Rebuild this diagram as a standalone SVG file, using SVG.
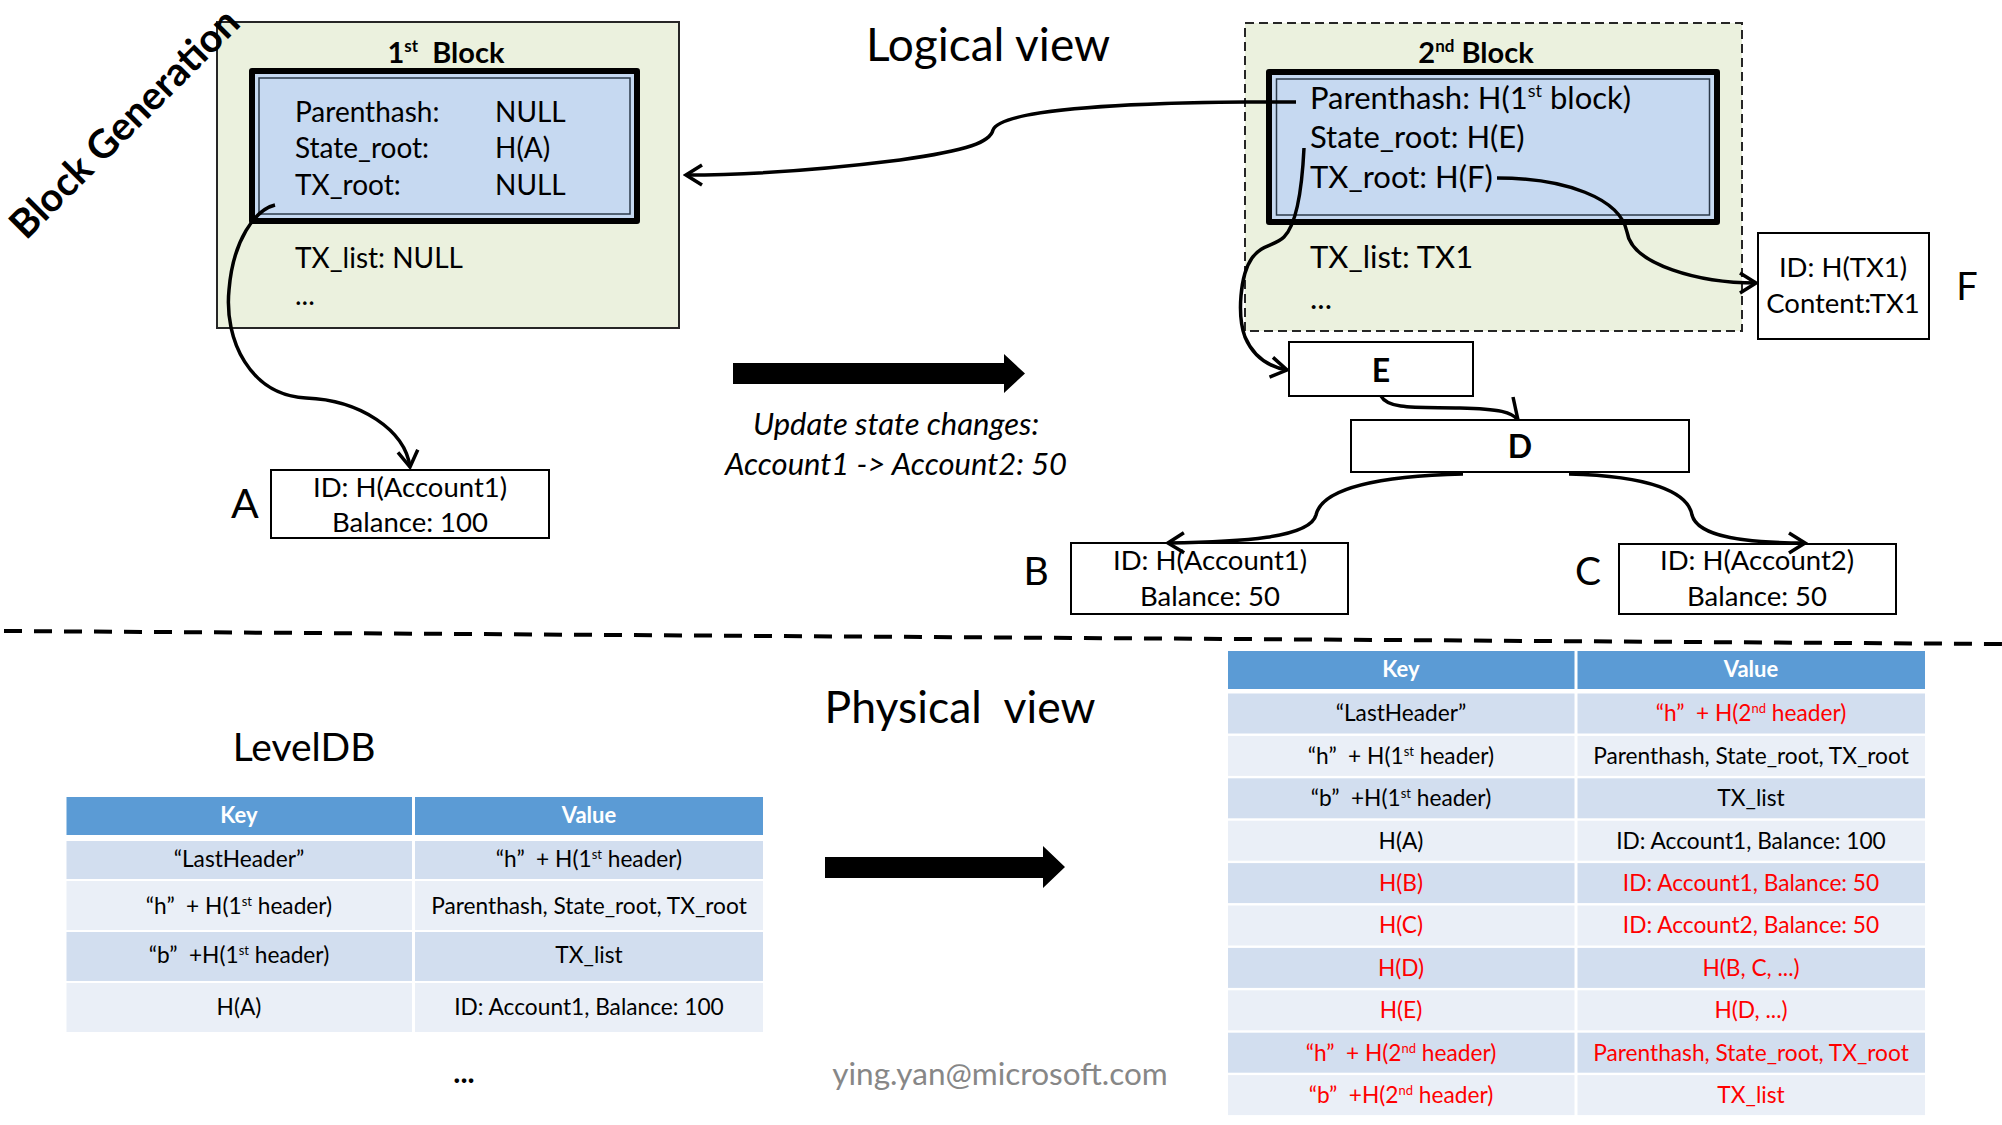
<svg xmlns="http://www.w3.org/2000/svg" width="2002" height="1125" viewBox="0 0 2002 1125">
<style>
text{font-family:Lato,"Liberation Sans",sans-serif;fill:#000}
.b{font-weight:bold}
.c{text-anchor:middle}
.i{font-style:italic}
.box{fill:#fff;stroke:#000;stroke-width:2}
.blk{fill:#EBF1DE;stroke:#262626;stroke-width:2}
.hdr{fill:#C6D9F1;stroke:#000;stroke-width:6;stroke-linejoin:round}
.hdr2{fill:none;stroke:#2b3a4a;stroke-width:1.5}
.con{fill:none;stroke:#000;stroke-width:3.5}
.th{fill:#5B9BD5}
.d1{fill:#D2DEEF}
.d2{fill:#EAEFF7}
.red{fill:#FF0000}
.tb{font-size:22.7px}
.th-t{font-size:22px;font-weight:bold;fill:#fff}
</style>
<defs>
<marker id="ah" markerUnits="userSpaceOnUse" viewBox="0 0 22 24" refX="19" refY="12" markerWidth="22" markerHeight="24" orient="auto">
<path d="M3,2 L19,12 L3,22" fill="none" stroke="#000" stroke-width="3.5"/>
</marker>
</defs>
<rect width="2002" height="1125" fill="#fff"/>

<text class="c" font-size="46" x="988" y="61">Logical view</text>
<text class="c" font-size="44.5" x="960" y="723">Physical&#160; view</text>
<text class="c" font-size="39" x="304" y="761">LevelDB</text>
<text class="c" font-size="31.5" x="1000" y="1085" style="fill:#878787">ying.yan@microsoft.com</text>
<text class="c i" font-size="31" x="896" y="435">Update state changes:</text>
<text class="c i" font-size="31" x="896" y="475">Account1 -&gt; Account2: 50</text>
<text class="b c" font-size="30" x="464" y="1083">...</text>

<path d="M733,363 L1004,363 L1004,354 L1025,373.5 L1004,393 L1004,384 L733,384 Z" fill="#000"/>
<path d="M825,857 L1043,857 L1043,846 L1065,867 L1043,888 L1043,878 L825,878 Z" fill="#000"/>
<path d="M4,631 L2002,644" fill="none" stroke="#000" stroke-width="4" stroke-dasharray="18 12"/>

<g id="block1">
<rect class="blk" x="217" y="22" width="462" height="306"/>
<text class="b c" font-size="29" x="446" y="63">1<tspan font-size="17" dy="-11">st</tspan><tspan dy="11">&#160; Block</tspan></text>
<rect class="hdr" x="252" y="71" width="385" height="150"/>
<rect class="hdr2" x="259" y="78" width="371" height="136"/>
<text font-size="28" x="295" y="122">Parenthash:</text>
<text font-size="28" x="295" y="158">State_root:</text>
<text font-size="28" x="295" y="195">TX_root:</text>
<text font-size="28" x="495" y="122">NULL</text>
<text font-size="28" x="495" y="158">H(A)</text>
<text font-size="28" x="495" y="195">NULL</text>
<text font-size="28" x="295" y="268">TX_list: NULL</text>
<text font-size="28" x="295" y="305">...</text>
</g>

<text class="b c" font-size="39.5" transform="translate(134,133) rotate(-45)">Block Generation</text>

<g id="block2">
<rect class="blk" x="1245" y="23" width="497" height="308" stroke-dasharray="9 5"/>
<text class="b c" font-size="29" x="1476" y="63">2<tspan font-size="17" dy="-11">nd</tspan><tspan dy="11"> Block</tspan></text>
<rect class="hdr" x="1269" y="72" width="448" height="150"/>
<rect class="hdr2" x="1276.5" y="79" width="433" height="136"/>
<text font-size="31" x="1310" y="109">Parenthash: H(1<tspan font-size="18" dy="-12">st</tspan><tspan dy="12"> block)</tspan></text>
<text font-size="31" x="1310" y="148">State_root: H(E)</text>
<text font-size="31" x="1310" y="188">TX_root: H(F)</text>
<text font-size="31" x="1310" y="268">TX_list: TX1</text>
<text font-size="31" x="1310" y="309">...</text>
</g>

<g id="nodeA">
<rect class="box" x="271" y="470" width="278" height="68"/>
<text class="c" font-size="27.5" x="410" y="497">ID: H(Account1)</text>
<text class="c" font-size="27.5" x="410" y="532">Balance: 100</text>
<text class="c" font-size="41" x="245" y="518">A</text>
</g>

<g id="nodeE">
<rect class="box" x="1289" y="342" width="184" height="54"/>
<text class="b c" font-size="32" x="1381" y="382">E</text>
</g>

<g id="nodeD">
<rect class="box" x="1351" y="420" width="338" height="52"/>
<text class="b c" font-size="32" x="1520" y="458">D</text>
</g>

<g id="nodeF">
<rect class="box" x="1758" y="233" width="171" height="106"/>
<text class="c" font-size="27.5" x="1843" y="277">ID: H(TX1)</text>
<text class="c" font-size="27.5" x="1843" y="313">Content:TX1</text>
<text class="c" font-size="38" x="1967" y="300">F</text>
</g>

<g id="nodeB">
<rect class="box" x="1071" y="543" width="277" height="71"/>
<text class="c" font-size="27.5" x="1210" y="570">ID: H(Account1)</text>
<text class="c" font-size="27.5" x="1210" y="606">Balance: 50</text>
<text class="c" font-size="39" x="1036" y="585">B</text>
</g>

<g id="nodeC">
<rect class="box" x="1619" y="544" width="277" height="70"/>
<text class="c" font-size="27.5" x="1757" y="570">ID: H(Account2)</text>
<text class="c" font-size="27.5" x="1757" y="606">Balance: 50</text>
<text class="c" font-size="39" x="1588" y="585">C</text>
</g>

<g id="connectors">
<path class="con" d="M275,205 C255,210 233,240 229,290 C224,340 250,395 306,398 C360,400 405,430 410,467" marker-end="url(#ah)"/>
<path class="con" d="M1296,102 L1245,102 C1120,103 1000,110 993,130 C990,142 970,150 900,160 C820,170 750,175 686,175" marker-end="url(#ah)"/>
<path class="con" d="M1304,148 C1302,190 1296,225 1284,237 C1275,246 1262,244 1252,258 C1240,275 1237,315 1245,337 C1254,358 1270,367 1287,370" marker-end="url(#ah)"/>
<path class="con" d="M1497,178 C1565,178 1620,198 1627,232 C1632,265 1700,283 1756,283" marker-end="url(#ah)"/>
<path class="con" d="M1381,396 C1388,410 1420,407 1460,408 C1500,409 1512,412 1518,420"/>
<path class="con" d="M1513,397 L1518,420"/>
<path class="con" d="M1463,474 C1380,476 1322,488 1316,515 C1310,538 1240,542 1168,543" marker-end="url(#ah)"/>
<path class="con" d="M1569,474 C1650,476 1688,492 1692,515 C1698,538 1750,543 1805,543" marker-end="url(#ah)"/>
</g>

<g id="table1">
<rect class="th" x="66.5" y="797" width="345.5" height="38"/>
<rect class="th" x="415" y="797" width="348" height="38"/>
<rect class="d1" x="66.5" y="841" width="345.5" height="38"/>
<rect class="d1" x="415" y="841" width="348" height="38"/>
<rect class="d2" x="66.5" y="881" width="345.5" height="49"/>
<rect class="d2" x="415" y="881" width="348" height="49"/>
<rect class="d1" x="66.5" y="932" width="345.5" height="49"/>
<rect class="d1" x="415" y="932" width="348" height="49"/>
<rect class="d2" x="66.5" y="983" width="345.5" height="49"/>
<rect class="d2" x="415" y="983" width="348" height="49"/>
<text class="c th-t" x="239" y="823">Key</text>
<text class="c th-t" x="589" y="823">Value</text>
<text class="c tb" x="239" y="867">“LastHeader”</text>
<text class="c tb" x="589" y="867">“h”&#160; + H(1<tspan font-size="13" dy="-8">st</tspan><tspan dy="8"> header)</tspan></text>
<text class="c tb" x="239" y="914">“h”&#160; + H(1<tspan font-size="13" dy="-8">st</tspan><tspan dy="8"> header)</tspan></text>
<text class="c tb" x="589" y="914">Parenthash, State_root, TX_root</text>
<text class="c tb" x="239" y="963">“b”&#160; +H(1<tspan font-size="13" dy="-8">st</tspan><tspan dy="8"> header)</tspan></text>
<text class="c tb" x="589" y="963">TX_list</text>
<text class="c tb" x="239" y="1015">H(A)</text>
<text class="c tb" x="589" y="1015">ID: Account1, Balance: 100</text>
</g>

<g id="table2">
<rect class="th" x="1228" y="651" width="346.5" height="38"/>
<rect class="th" x="1577.5" y="651" width="347.5" height="38"/>
<rect class="d1" x="1228" y="693.5" width="346.5" height="40"/><rect class="d1" x="1577.5" y="693.5" width="347.5" height="40"/>
<rect class="d2" x="1228" y="735.9" width="346.5" height="40"/><rect class="d2" x="1577.5" y="735.9" width="347.5" height="40"/>
<rect class="d1" x="1228" y="778.3" width="346.5" height="40"/><rect class="d1" x="1577.5" y="778.3" width="347.5" height="40"/>
<rect class="d2" x="1228" y="820.7" width="346.5" height="40"/><rect class="d2" x="1577.5" y="820.7" width="347.5" height="40"/>
<rect class="d1" x="1228" y="863.1" width="346.5" height="40"/><rect class="d1" x="1577.5" y="863.1" width="347.5" height="40"/>
<rect class="d2" x="1228" y="905.5" width="346.5" height="40"/><rect class="d2" x="1577.5" y="905.5" width="347.5" height="40"/>
<rect class="d1" x="1228" y="947.9" width="346.5" height="40"/><rect class="d1" x="1577.5" y="947.9" width="347.5" height="40"/>
<rect class="d2" x="1228" y="990.3" width="346.5" height="40"/><rect class="d2" x="1577.5" y="990.3" width="347.5" height="40"/>
<rect class="d1" x="1228" y="1032.7" width="346.5" height="40"/><rect class="d1" x="1577.5" y="1032.7" width="347.5" height="40"/>
<rect class="d2" x="1228" y="1075.1" width="346.5" height="40"/><rect class="d2" x="1577.5" y="1075.1" width="347.5" height="40"/>
<text class="c th-t" x="1401" y="677">Key</text>
<text class="c th-t" x="1751" y="677">Value</text>
<text class="c tb" x="1401" y="721">“LastHeader”</text>
<text class="c tb red" x="1751" y="721">“h”&#160; + H(2<tspan font-size="13" dy="-8">nd</tspan><tspan dy="8"> header)</tspan></text>
<text class="c tb" x="1401" y="764">“h”&#160; + H(1<tspan font-size="13" dy="-8">st</tspan><tspan dy="8"> header)</tspan></text>
<text class="c tb" x="1751" y="764">Parenthash, State_root, TX_root</text>
<text class="c tb" x="1401" y="806">“b”&#160; +H(1<tspan font-size="13" dy="-8">st</tspan><tspan dy="8"> header)</tspan></text>
<text class="c tb" x="1751" y="806">TX_list</text>
<text class="c tb" x="1401" y="849">H(A)</text>
<text class="c tb" x="1751" y="849">ID: Account1, Balance: 100</text>
<text class="c tb red" x="1401" y="891">H(B)</text>
<text class="c tb red" x="1751" y="891">ID: Account1, Balance: 50</text>
<text class="c tb red" x="1401" y="933">H(C)</text>
<text class="c tb red" x="1751" y="933">ID: Account2, Balance: 50</text>
<text class="c tb red" x="1401" y="976">H(D)</text>
<text class="c tb red" x="1751" y="976">H(B, C, ...)</text>
<text class="c tb red" x="1401" y="1018">H(E)</text>
<text class="c tb red" x="1751" y="1018">H(D, ...)</text>
<text class="c tb red" x="1401" y="1061">“h”&#160; + H(2<tspan font-size="13" dy="-8">nd</tspan><tspan dy="8"> header)</tspan></text>
<text class="c tb red" x="1751" y="1061">Parenthash, State_root, TX_root</text>
<text class="c tb red" x="1401" y="1103">“b”&#160; +H(2<tspan font-size="13" dy="-8">nd</tspan><tspan dy="8"> header)</tspan></text>
<text class="c tb red" x="1751" y="1103">TX_list</text>
</g>
</svg>
